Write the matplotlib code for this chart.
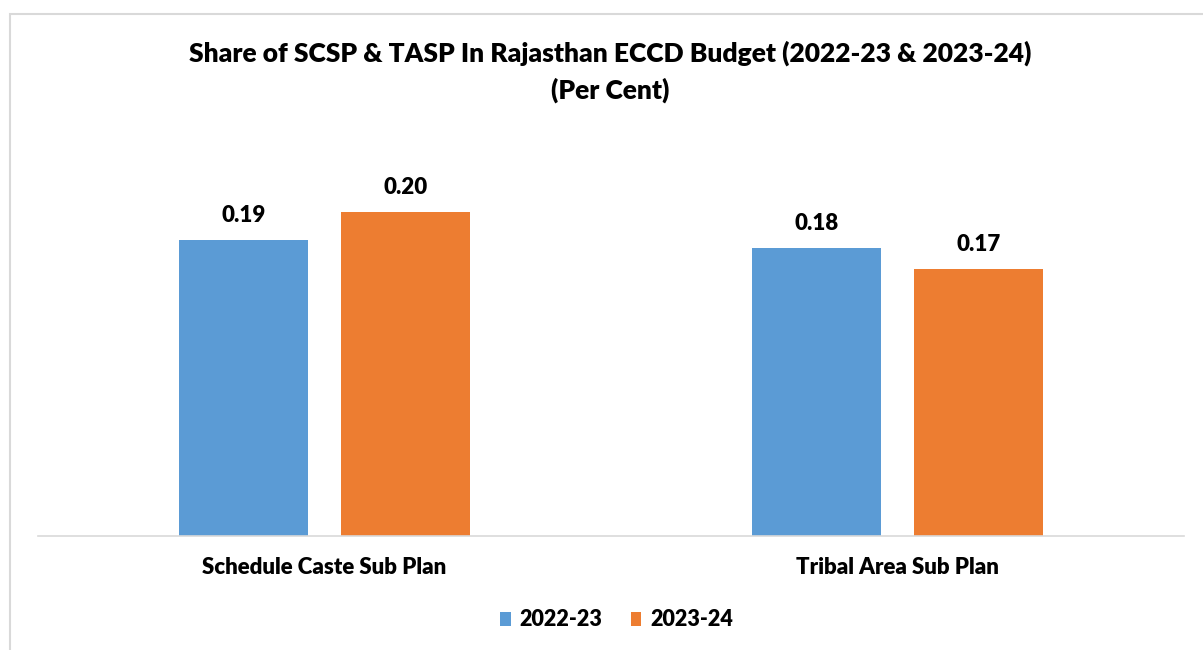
import numpy as np
import matplotlib.pyplot as plt
from matplotlib.patches import Rectangle

categories = ["Schedule Caste Sub Plan", "Tribal Area Sub Plan"]
years = ["2022-23", "2023-24"]
share_2022 = [0.186, 0.181]
share_2023 = [0.204, 0.168]
labels_2022 = ["0.19", "0.18"]
labels_2023 = ["0.20", "0.17"]
colors = ["#5B9BD5", "#ED7D31"]

plt.rcParams["font.family"] = ["Lato", "DejaVu Sans"]
WEIGHT = "heavy"

W, H = 1203, 650
fig = plt.figure(figsize=(W / 100, H / 100), dpi=100)

# chart frame (cut off on the right and bottom, as in the source)
fig.patches.append(Rectangle((10 / W, -0.05), 1.1, 1 - 14 / H + 0.05,
                             transform=fig.transFigure, fill=False,
                             edgecolor="#d9d9d9", lw=1.5))

ax = fig.add_axes([38 / W, (H - 536) / H, 1146 / W, 0.25 * 1590 / H])
x = np.arange(len(categories))
bw, off = 0.225, 0.142
b1 = ax.bar(x - off, share_2022, bw, color=colors[0], label=years[0])
b2 = ax.bar(x + off, share_2023, bw, color=colors[1], label=years[1])

for bars, labs in [(b1, labels_2022), (b2, labels_2023)]:
    for b, t in zip(bars, labs):
        ax.annotate(t, (b.get_x() + b.get_width() / 2, b.get_height()),
                    xytext=(0, 13), textcoords="offset points",
                    ha="center", va="baseline", fontsize=16, fontweight=WEIGHT)

ax.set_xlim(-0.5, 1.5)
ax.set_ylim(0, 0.25)
ax.set_yticks([])
ax.set_xticks(x)
ax.set_xticklabels(categories, fontsize=16, fontweight=WEIGHT)
ax.tick_params(axis="x", length=0, pad=15)
for s in ["top", "right", "left"]:
    ax.spines[s].set_visible(False)
ax.spines["bottom"].set_color("#d9d9d9")
ax.spines["bottom"].set_linewidth(1.2)

tx = 610 / W
fig.text(tx, 1 - 53 / H, "Share of SCSP & TASP In Rajasthan ECCD Budget (2022-23 & 2023-24)",
         ha="center", va="center", fontsize=19, fontweight=WEIGHT)
fig.text(tx, 1 - 90 / H, "(Per Cent)",
         ha="center", va="center", fontsize=19, fontweight=WEIGHT)

fig.legend(loc="center", bbox_to_anchor=(0.5125, 1 - 620 / H), ncol=2, frameon=False,
           prop={"size": 15.5, "weight": WEIGHT}, handlelength=0.5, handleheight=0.6,
           handletextpad=0.4, columnspacing=1.3)

fig.savefig("out.png", dpi=100)
